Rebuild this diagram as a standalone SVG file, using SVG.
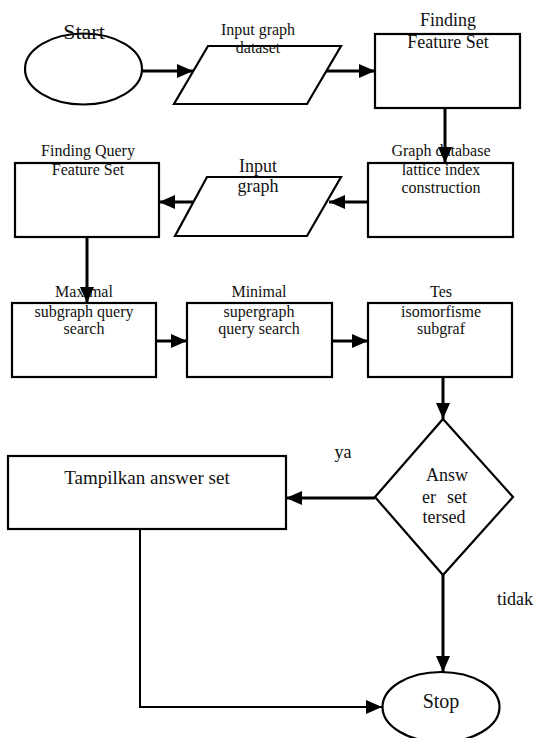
<svg xmlns="http://www.w3.org/2000/svg" width="536" height="738" viewBox="0 0 536 738">
<style>
  .shape { fill: #ffffff; stroke: #000000; stroke-width: 2.2; }
  .conn { fill: none; stroke: #000000; stroke-width: 3; }
  .thin { fill: none; stroke: #000000; stroke-width: 2; }
  text { font-family: "Liberation Serif", "Times New Roman", serif; fill: #111111; text-anchor: middle; }
  .t16 { font-size: 16px; }
  .t18 { font-size: 18px; }
</style>
<defs>
  <marker id="arr" markerUnits="userSpaceOnUse" markerWidth="16" markerHeight="16" viewBox="0 0 16 16" refX="16" refY="8" orient="auto">
    <path d="M0,1 L16,8 L0,15 Z" fill="#000000"/>
  </marker>
</defs>
<rect width="536" height="738" fill="#ffffff"/>

<g id="start">
  <ellipse class="shape" cx="83.5" cy="69" rx="58.5" ry="35.5"/>
  <text x="84" y="39" style="font-size:22px">Start</text>
</g>

<g id="input-dataset">
  <polygon class="shape" points="208,46 341,46 307,104 174,104"/>
  <text class="t16" x="258" y="35">Input graph</text>
  <text class="t16" x="258" y="53">dataset</text>
</g>

<g id="finding-feature">
  <rect class="shape" x="375" y="34" width="145" height="74"/>
  <text class="t18" x="448" y="26">Finding</text>
  <text class="t18" x="448" y="48">Feature Set</text>
</g>

<g id="graph-db">
  <rect class="shape" x="368" y="163" width="145" height="74"/>
  <text class="t16" x="441" y="156">Graph database</text>
  <text class="t16" x="441" y="175">lattice index</text>
  <text class="t16" x="441" y="193">construction</text>
</g>

<g id="input-graph">
  <polygon class="shape" points="207,177 341,177 307,236 175,236"/>
  <text class="t18" x="258" y="172">Input</text>
  <text class="t18" x="258" y="192">graph</text>
</g>

<g id="finding-query">
  <rect class="shape" x="15" y="163" width="144" height="74"/>
  <text class="t16" x="88" y="156">Finding Query</text>
  <text class="t16" x="88" y="175">Feature Set</text>
</g>

<g id="maximal">
  <rect class="shape" x="12" y="303" width="144" height="74"/>
  <text class="t16" x="84" y="297">Maximal</text>
  <text class="t16" x="84" y="317">subgraph query</text>
  <text class="t16" x="84" y="334">search</text>
</g>

<g id="minimal">
  <rect class="shape" x="187" y="303" width="145" height="74"/>
  <text class="t16" x="259" y="297">Minimal</text>
  <text class="t16" x="259" y="317">supergraph</text>
  <text class="t16" x="259" y="334">query search</text>
</g>

<g id="tes">
  <rect class="shape" x="368" y="303" width="144" height="74"/>
  <text class="t16" x="441" y="297">Tes</text>
  <text class="t16" x="441" y="317">isomorfisme</text>
  <text class="t16" x="441" y="334">subgraf</text>
</g>

<g id="decision">
  <polygon class="shape" points="443,419 513,497 443,575 375,497"/>
  <text class="t18" x="447" y="481">Answ</text>
  <text class="t18" x="422" y="503" style="text-anchor:start">er</text>
  <text class="t18" x="467" y="503" style="text-anchor:end">set</text>
  <text class="t18" x="444" y="523">tersed</text>
</g>

<g id="tampilkan">
  <rect class="shape" x="8" y="456" width="278" height="73"/>
  <text x="147" y="484" style="font-size:19px">Tampilkan answer set</text>
</g>

<g id="stop">
  <ellipse class="shape" cx="441" cy="707" rx="58.5" ry="35"/>
  <text x="441" y="708" style="font-size:20px">Stop</text>
</g>

<g id="connectors">
  <line class="conn" x1="142" y1="71" x2="193" y2="71" marker-end="url(#arr)"/>
  <line class="conn" x1="326" y1="71" x2="375" y2="71" marker-end="url(#arr)"/>
  <line class="conn" x1="445" y1="108" x2="445" y2="163" marker-end="url(#arr)"/>
  <line class="conn" x1="368" y1="202" x2="329" y2="202" marker-end="url(#arr)"/>
  <line class="conn" x1="193" y1="202" x2="159" y2="202" marker-end="url(#arr)"/>
  <line class="conn" x1="87" y1="237" x2="87" y2="303" marker-end="url(#arr)"/>
  <line class="conn" x1="156" y1="341" x2="187" y2="341" marker-end="url(#arr)"/>
  <line class="conn" x1="332" y1="341" x2="368" y2="341" marker-end="url(#arr)"/>
  <line class="conn" x1="443" y1="377" x2="443" y2="419" marker-end="url(#arr)"/>
  <line class="conn" x1="375" y1="498" x2="286" y2="498" marker-end="url(#arr)"/>
  <line class="conn" x1="443" y1="575" x2="443" y2="672" marker-end="url(#arr)"/>
  <polyline class="thin" points="140,529 140,707 382,707" marker-end="url(#arr)"/>
  <text class="t18" x="343" y="458">ya</text>
  <text class="t18" x="515" y="605">tidak</text>
</g>
</svg>
